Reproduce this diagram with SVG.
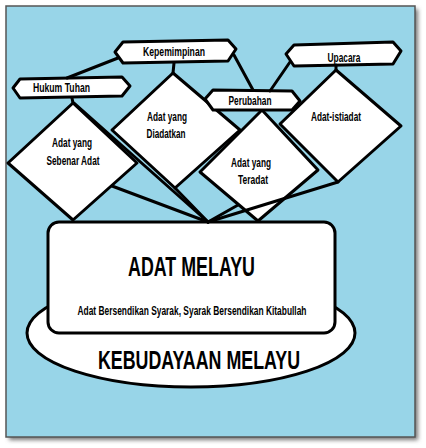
<svg xmlns="http://www.w3.org/2000/svg" width="426" height="448" viewBox="0 0 426 448">
<defs>
<filter id="sh" x="-5%" y="-5%" width="115%" height="115%">
<feGaussianBlur stdDeviation="2"/>
</filter>
</defs>
<style>
.shape{fill:#ffffff;stroke:#000000;stroke-width:3;stroke-linejoin:round}
.conn line{stroke:#000000;stroke-width:3;stroke-linecap:round}
.lbl{font-family:"Liberation Sans",Arial,sans-serif;font-weight:bold;font-size:12.5px;fill:#000000;text-anchor:middle}
.big{font-family:"Liberation Sans",Arial,sans-serif;font-weight:bold;fill:#000000;text-anchor:middle}
</style>
<rect x="0" y="0" width="426" height="448" fill="#ffffff"/>
<rect x="9" y="9" width="409" height="431" fill="#777777" filter="url(#sh)"/>
<rect id="frame" x="6" y="6" width="409" height="431" fill="#98d5e8" stroke="#555555" stroke-width="1.5"/>

<g id="kebudayaan">
<ellipse cx="191" cy="333" rx="164" ry="54" class="shape"/>
<text class="big" x="199" y="369" font-size="26" textLength="202" lengthAdjust="spacingAndGlyphs">KEBUDAYAAN MELAYU</text>
</g>

<g id="adat-melayu">
<rect x="48" y="222" width="287" height="111" rx="11" class="shape"/>
<text class="big" x="191.5" y="276" font-size="27" textLength="127" lengthAdjust="spacingAndGlyphs">ADAT MELAYU</text>
<text class="lbl" x="192" y="315" font-size="12.5" textLength="229" lengthAdjust="spacingAndGlyphs">Adat Bersendikan Syarak, Syarak Bersendikan Kitabullah</text>
</g>

<g id="sebenar">
<polygon class="shape" points="73,103 137,163 73,220 8,163"/>
<text class="lbl" x="72" y="147" textLength="40" lengthAdjust="spacingAndGlyphs">Adat yang</text>
<text class="lbl" x="73" y="165" textLength="53" lengthAdjust="spacingAndGlyphs">Sebenar Adat</text>
</g>

<g id="diadatkan">
<polygon class="shape" points="173,73 240,130 175,188 112,130"/>
<text class="lbl" x="167" y="121" textLength="40" lengthAdjust="spacingAndGlyphs">Adat yang</text>
<text class="lbl" x="166" y="138" textLength="39" lengthAdjust="spacingAndGlyphs">Diadatkan</text>
</g>

<g id="teradat">
<polygon class="shape" points="262,110 318,170 258,221 200,172"/>
<text class="lbl" x="251" y="167" textLength="40" lengthAdjust="spacingAndGlyphs">Adat yang</text>
<text class="lbl" x="253" y="184" textLength="30" lengthAdjust="spacingAndGlyphs">Teradat</text>
</g>

<g id="adat-istiadat">
<polygon class="shape" points="336,70 401,126 338,182 280,124"/>
<text class="lbl" x="336" y="121" textLength="50" lengthAdjust="spacingAndGlyphs">Adat-istiadat</text>
</g>

<g id="kepemimpinan">
<polygon class="shape" points="115,52 123,42 228,40 236,49 228,61 123,63"/>
<text class="lbl" x="174" y="56" textLength="62" lengthAdjust="spacingAndGlyphs">Kepemimpinan</text>
</g>

<g id="hukum-tuhan">
<polygon class="shape" points="13,88 20,79 122,77 130,86 122,96 20,98"/>
<text class="lbl" x="61.5" y="92" textLength="57" lengthAdjust="spacingAndGlyphs">Hukum Tuhan</text>
</g>

<g id="perubahan">
<polygon class="shape" points="205,99 213,90 292,91 300,101 292,110 213,110"/>
<text class="lbl" x="250" y="104.5" textLength="43" lengthAdjust="spacingAndGlyphs">Perubahan</text>
</g>

<g id="upacara">
<polygon class="shape" points="286,54 294,45 393,42 401,51 393,64 294,66"/>
<text class="lbl" x="344" y="62" textLength="33" lengthAdjust="spacingAndGlyphs">Upacara</text>
</g>

<g id="connectors" class="conn">
<line x1="118" y1="58" x2="67" y2="78"/>
<line x1="234" y1="55" x2="253" y2="90"/>
<line x1="290" y1="62" x2="270" y2="91"/>
<line x1="174" y1="63" x2="173" y2="73"/>
<line x1="72" y1="98" x2="73" y2="103"/>
<line x1="336" y1="65" x2="336" y2="70"/>
<line x1="74" y1="103" x2="208" y2="222"/>
<line x1="112" y1="186" x2="208" y2="222"/>
<line x1="175" y1="188" x2="208" y2="222"/>
<line x1="238" y1="205" x2="208" y2="222"/>
<line x1="338" y1="182" x2="208" y2="222"/>
</g>
</svg>
